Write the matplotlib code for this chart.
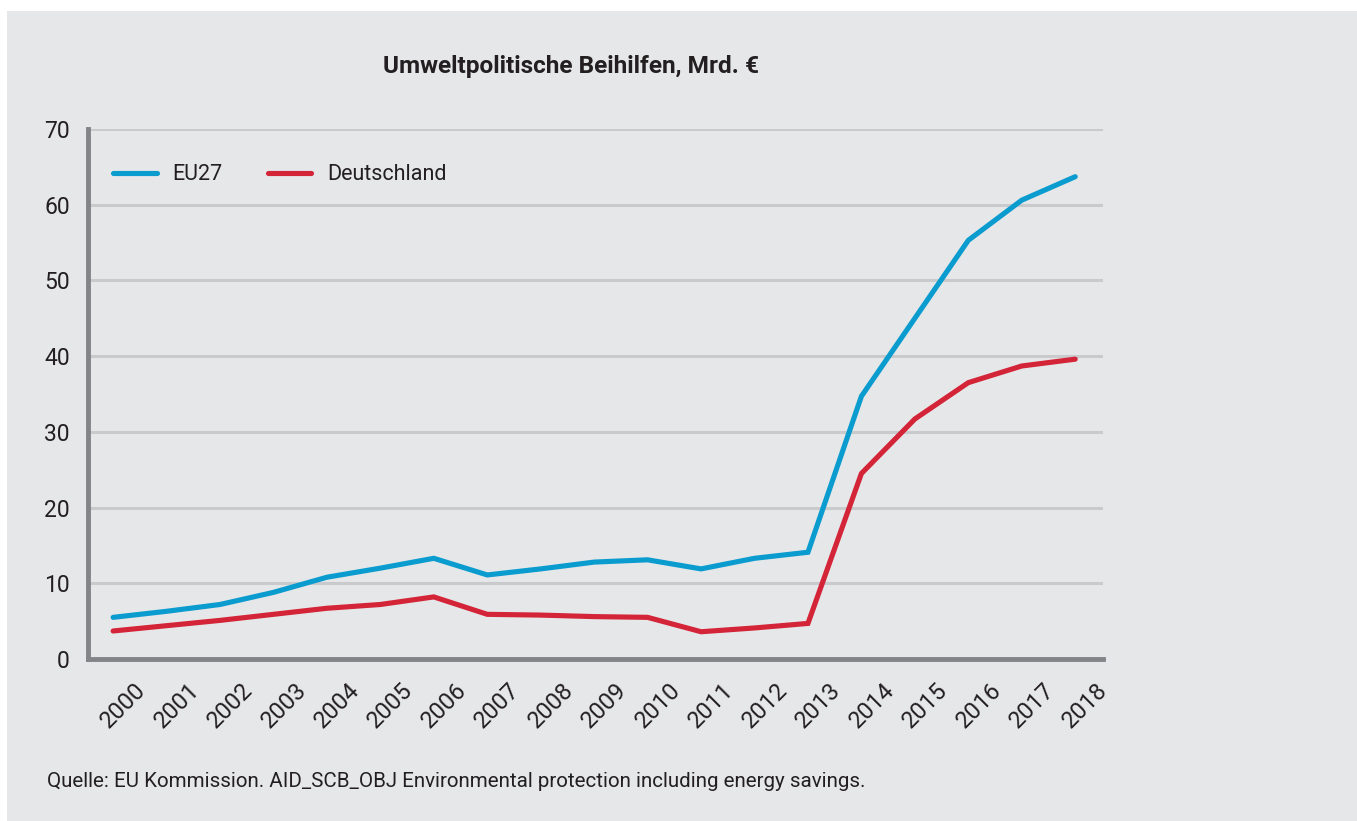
import matplotlib
matplotlib.use("Agg")
import matplotlib.pyplot as plt
import matplotlib.transforms as mtransforms
from matplotlib.patches import Rectangle

# Data (Mrd. EUR)
years = list(range(2000, 2019))
eu27 = [5.5, 6.3, 7.2, 8.8, 10.8, 12.0, 13.3, 11.1, 11.9, 12.8, 13.1,
        11.9, 13.3, 14.1, 34.7, 45.0, 55.3, 60.6, 63.7]
deutschland = [3.7, 4.4, 5.1, 5.9, 6.7, 7.2, 8.2, 5.9, 5.8, 5.6, 5.5,
               3.6, 4.1, 4.7, 24.5, 31.7, 36.5, 38.7, 39.6]
yticks = [0, 10, 20, 30, 40, 50, 60, 70]

_title = "Umweltpolitische Beihilfen, Mrd. €"
_source = "Quelle: EU Kommission. AID_SCB_OBJ Environmental protection including energy savings."

bg = "#e6e7e9"
blue = "#0a9bcf"
red = "#d42438"
axis_grey = "#838487"
grid_grey = "#c9cacc"
text_col = "#231f20"

plt.rcParams['font.family'] = ['Roboto', 'DejaVu Sans']

fig = plt.figure(figsize=(13.57, 8.21), dpi=100)
fig.patch.set_facecolor("white")
# grey panel behind everything
fig.patches.append(Rectangle((7 / 1357, 0), 1, 1 - 11 / 821, transform=fig.transFigure,
                             facecolor=bg, edgecolor="none", zorder=-10))

ax = fig.add_axes([88 / 1357, 1 - 659 / 821, 1015 / 1357, 530 / 821])
ax.set_facecolor(bg)

ax.plot(years, eu27, color=blue, lw=3.7, solid_capstyle="round", solid_joinstyle="miter", label="EU27", zorder=3)
ax.plot(years, deutschland, color=red, lw=3.7, solid_capstyle="round", solid_joinstyle="miter", label="Deutschland", zorder=3)

ax.set_xlim(1999.53, 2018.52)
ax.set_ylim(0, 70)
ax.set_yticks(yticks)
ax.set_xticks(years)
ax.set_xticklabels([str(y) for y in years], rotation=45, ha="right", va="top",
                   rotation_mode="anchor", fontsize=17, color=text_col)
ax.tick_params(axis="both", length=0, labelcolor=text_col)
ax.tick_params(axis="y", pad=13, labelsize=16.5)
ax.tick_params(axis="x", pad=14)

# shift year labels right, like the original
offset = mtransforms.ScaledTranslation(21 / 100, 0, fig.dpi_scale_trans)
for lbl in ax.get_xticklabels():
    lbl.set_transform(lbl.get_transform() + offset)

# gridlines
for v in yticks[1:]:
    ax.axhline(v, color=grid_grey, lw=2.2, zorder=1)

for s in ["top", "right"]:
    ax.spines[s].set_visible(False)
for s in ["left", "bottom"]:
    ax.spines[s].set_color(axis_grey)
    ax.spines[s].set_linewidth(3.5)
    ax.spines[s].set_zorder(4)
ax.spines["left"].set_bounds(0, 70)

leg = ax.legend(loc="upper left", bbox_to_anchor=(0.006, 0.97), ncol=2, frameon=False,
                fontsize=15.5, handlelength=2.0, handletextpad=0.75, columnspacing=2.1)
for t in leg.get_texts():
    t.set_color(text_col)

fig.text(571 / 1357, 1 - 67 / 821, _title, ha="center", va="center",
         fontsize=17.6, fontweight="bold", color=text_col)
fig.text(47 / 1357, 1 - 781 / 821, _source, ha="left", va="center",
         fontsize=14.8, color=text_col)

fig.savefig("out.png", dpi=100, facecolor=fig.get_facecolor())
